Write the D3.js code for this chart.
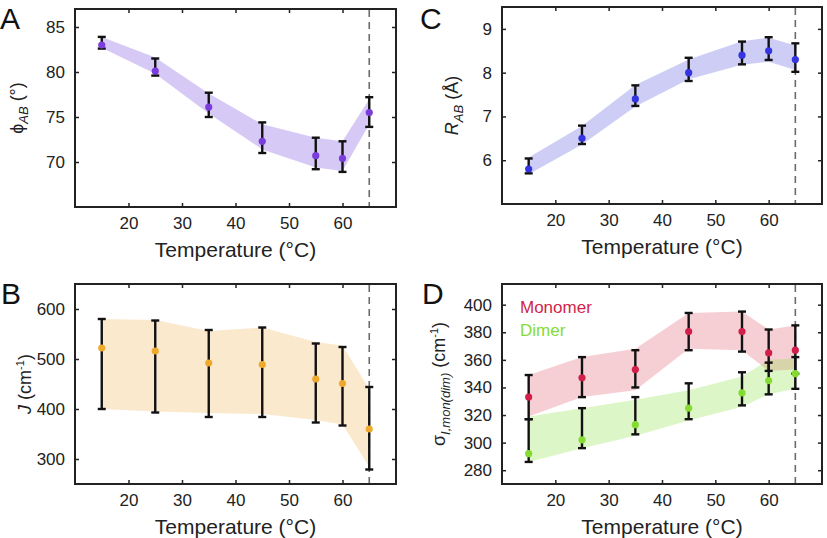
<!DOCTYPE html>
<html>
<head>
<meta charset="utf-8">
<script src="https://cdn.jsdelivr.net/npm/d3@7/dist/d3.min.js"></script>
<style>
  body { margin: 0; background: #fff; }
  svg { font-family: "Liberation Sans", Arial, Helvetica, sans-serif; }
</style>
</head>
<body>
<svg id="chart" width="827" height="538"></svg>
<script>
// ---------- data ----------
const temps = [15, 25, 35, 45, 55, 60, 65];
const xTicks = [20, 30, 40, 50, 60];
const meltTemp = 65;

// Panel A: phi_AB (deg)
const phiMean      = [83.0, 80.1, 76.1, 72.3, 70.7, 70.4, 75.5];
const phiErrLow    = [82.6, 79.6, 75.0, 71.0, 69.2, 68.9, 73.9];
const phiErrHigh   = [83.9, 81.5, 77.7, 74.4, 72.7, 72.3, 77.2];
const phiBandLow   = [82.7, 79.8, 75.4, 71.4, 69.4, 69.0, 74.2];
const phiBandHigh  = [83.9, 81.6, 77.6, 74.2, 72.7, 72.3, 77.0];
const phiTicks     = [70, 75, 80, 85];

// Panel B: J (cm^-1)
const jMean        = [522, 516, 492, 489, 460, 451, 360];
const jErrLow      = [400, 393, 384, 384, 373, 367, 279];
const jErrHigh     = [580, 577, 558, 563, 531, 524, 444];
const jBandLow     = [400, 395, 392, 390, 378, 369, 284];
const jBandHigh    = [580, 578, 556, 563, 534, 527, 440];
const jTicks       = [300, 400, 500, 600];

// Panel C: R_AB (Angstrom)
const rMean        = [5.80, 6.50, 7.40, 8.00, 8.40, 8.50, 8.30];
const rErrLow      = [5.70, 6.37, 7.24, 7.81, 8.19, 8.29, 8.02];
const rErrHigh     = [6.04, 6.79, 7.71, 8.34, 8.71, 8.81, 8.67];
const rBandLow     = [5.68, 6.36, 7.23, 7.85, 8.18, 8.25, 8.06];
const rBandHigh    = [6.06, 6.78, 7.72, 8.30, 8.72, 8.80, 8.62];
const rTicks       = [6, 7, 8, 9];

// Panel D: sigma_I (cm^-1), monomer and dimer
const monMean      = [333, 347, 353, 380.5, 380.5, 365, 367];
const monErrLow    = [317, 333, 340, 367, 366, 352, 350];
const monErrHigh   = [349, 362, 367, 394, 395, 382, 385];
const monBandLow   = [319, 333, 338, 368, 367, 352, 353];
const monBandHigh  = [349, 362, 368, 394, 395, 382, 385];
const dimMean      = [292, 302, 313, 325, 336, 345, 350];
const dimErrLow    = [286, 296, 306, 317, 327, 335, 339];
const dimErrHigh   = [317, 325, 333, 343, 351, 358, 362];
const dimBandLow   = [286, 296, 305, 316, 326, 335, 339];
const dimBandHigh  = [319, 325, 331, 338, 348, 360, 361];
const sigTicks     = [280, 300, 320, 340, 360, 380, 400];

const legendLabels = ["Monomer", "Dimer"];

// ---------- drawing ----------
const svg = d3.select("#chart");

function series(mean, lo, hi, blo, bhi) {
  return temps.map((t, i) => ({ t, m: mean[i], lo: lo[i], hi: hi[i], blo: blo[i], bhi: bhi[i] }));
}

function panel(cfg) {
  const x = d3.scaleLinear().domain([10, 70]).range([cfg.x0, cfg.x1]);
  const y = d3.scaleLinear().domain(cfg.yDomain).range([cfg.y1, cfg.y0]);
  const g = svg.append("g");

  // bands
  cfg.series.forEach(s => {
    const area = d3.area().x(d => x(d.t)).y0(d => y(d.blo)).y1(d => y(d.bhi));
    g.append("path").datum(s.data).attr("d", area)
      .attr("fill", s.band).attr("fill-opacity", s.bandOpacity);
  });

  // dashed line at melting temp
  g.append("line")
    .attr("x1", x(meltTemp)).attr("x2", x(meltTemp))
    .attr("y1", cfg.y0 + 1).attr("y2", cfg.y1 - 1)
    .attr("stroke", "#6b6b6b").attr("stroke-width", 1.6)
    .attr("stroke-dasharray", "7,5");

  // error bars
  cfg.series.forEach(s => {
    const eg = g.append("g");
    s.data.forEach(d => {
      eg.append("line").attr("x1", x(d.t)).attr("x2", x(d.t))
        .attr("y1", y(d.lo)).attr("y2", y(d.hi))
        .attr("stroke", "#111").attr("stroke-width", 2.4);
      [d.lo, d.hi].forEach(v => {
        eg.append("line").attr("x1", x(d.t) - 4).attr("x2", x(d.t) + 4)
          .attr("y1", y(v)).attr("y2", y(v))
          .attr("stroke", "#111").attr("stroke-width", 2.4);
      });
    });
  });
  // dots
  cfg.series.forEach(s => {
    g.append("g").selectAll("circle").data(s.data).join("circle")
      .attr("cx", d => x(d.t)).attr("cy", d => y(d.m)).attr("r", 3.6)
      .attr("fill", s.dot);
  });

  // axes: ticks inward on all sides
  const tickLen = 4;
  const bottom = d3.axisBottom(x).tickValues(xTicks).tickSize(-tickLen).tickPadding(10);
  const top = d3.axisTop(x).tickValues(xTicks).tickSize(-tickLen).tickFormat("");
  const left = d3.axisLeft(y).tickValues(cfg.yTicks).tickSize(-tickLen).tickPadding(10)
    .tickFormat(d3.format("~g"));
  const right = d3.axisRight(y).tickValues(cfg.yTicks).tickSize(-tickLen).tickFormat("");

  const axB = g.append("g").attr("transform", `translate(0,${cfg.y1})`).call(bottom);
  const axT = g.append("g").attr("transform", `translate(0,${cfg.y0})`).call(top);
  const axL = g.append("g").attr("transform", `translate(${cfg.x0},0)`).call(left);
  const axR = g.append("g").attr("transform", `translate(${cfg.x1},0)`).call(right);
  [axB, axT, axL, axR].forEach(a => {
    a.select(".domain").remove();
    a.selectAll(".tick line").attr("stroke", "#222").attr("stroke-width", 1.5);
    a.selectAll(".tick text").attr("fill", "#222").attr("font-size", 17)
      .attr("font-family", "'Liberation Sans', Arial, sans-serif");
  });

  // frame
  g.append("rect").attr("x", cfg.x0).attr("y", cfg.y0)
    .attr("width", cfg.x1 - cfg.x0).attr("height", cfg.y1 - cfg.y0)
    .attr("fill", "none").attr("stroke", "#222").attr("stroke-width", 2);

  // x title
  g.append("text").attr("x", (cfg.x0 + cfg.x1) / 2).attr("y", cfg.y1 + 50)
    .attr("text-anchor", "middle").attr("font-size", 21).attr("fill", "#222")
    .text("Temperature (°C)");

  // y title
  const yt = g.append("text")
    .attr("transform", `translate(${cfg.yLabelX},${(cfg.y0 + cfg.y1) / 2}) rotate(-90)`)
    .attr("text-anchor", "middle").attr("font-size", 18).attr("fill", "#222");
  cfg.yLabel(yt);

  // panel letter
  g.append("text").attr("x", cfg.letterX).attr("y", cfg.letterY)
    .attr("font-size", 30).attr("fill", "#111").text(cfg.letter);

  return { x, y, g };
}

// Panel A
panel({
  x0: 75, x1: 396, y0: 9, y1: 207, yDomain: [65, 87], yTicks: phiTicks,
  series: [{ data: series(phiMean, phiErrLow, phiErrHigh, phiBandLow, phiBandHigh),
             band: "#cdbcf2", bandOpacity: 0.8, dot: "#7a3ddb" }],
  yLabelX: 23, letter: "A", letterX: 0, letterY: 28.5,
  yLabel: t => {
    t.append("tspan").text("ϕ");
    t.append("tspan").attr("font-style", "italic").attr("font-size", 13).attr("dy", 5).text("AB");
    t.append("tspan").attr("dy", -5).text(" (°)");
  }
});

// Panel B
panel({
  x0: 75, x1: 396, y0: 284, y1: 484, yDomain: [250, 650], yTicks: jTicks,
  series: [{ data: series(jMean, jErrLow, jErrHigh, jBandLow, jBandHigh),
             band: "#fbe7c9", bandOpacity: 0.9, dot: "#efaa2e" }],
  yLabelX: 31, letter: "B", letterX: 1, letterY: 304,
  yLabel: t => {
    t.append("tspan").attr("font-style", "italic").text("J");
    t.append("tspan").text(" (cm");
    t.append("tspan").attr("font-size", 11).attr("dy", -7).text("-1");
    t.append("tspan").attr("dy", 7).text(")");
  }
});

// Panel C
panel({
  x0: 502, x1: 822, y0: 7, y1: 204, yDomain: [5, 9.5], yTicks: rTicks,
  series: [{ data: series(rMean, rErrLow, rErrHigh, rBandLow, rBandHigh),
             band: "#c4c4f3", bandOpacity: 0.85, dot: "#3434e0" }],
  yLabelX: 458, letter: "C", letterX: 420, letterY: 28.5,
  yLabel: t => {
    t.append("tspan").attr("font-style", "italic").text("R");
    t.append("tspan").attr("font-style", "italic").attr("font-size", 13).attr("dy", 5).text("AB");
    t.append("tspan").attr("dy", -5).text(" (Å)");
  }
});

// Panel D
const pD = panel({
  x0: 502, x1: 822, y0: 284, y1: 484, yDomain: [270, 415], yTicks: sigTicks,
  series: [
    { data: series(monMean, monErrLow, monErrHigh, monBandLow, monBandHigh),
      band: "#d9384f", bandOpacity: 0.24, dot: "#d21f4a" },
    { data: series(dimMean, dimErrLow, dimErrHigh, dimBandLow, dimBandHigh),
      band: "#8fe04a", bandOpacity: 0.3, dot: "#84dc32" }
  ],
  yLabelX: 445, letter: "D", letterX: 422, letterY: 304,
  yLabel: t => {
    t.append("tspan").text("σ");
    t.append("tspan").attr("font-style", "italic").attr("font-size", 13).attr("dy", 5).text("I,mon(dim)");
    t.append("tspan").attr("dy", -5).text(" (cm");
    t.append("tspan").attr("font-size", 11).attr("dy", -7).text("-1");
    t.append("tspan").attr("dy", 7).text(")");
  }
});

// legend for D
const legendColors = ["#d21f4a", "#84dc32"];
pD.g.selectAll("text.legend").data(legendLabels).join("text")
  .attr("class", "legend")
  .attr("x", 520).attr("y", (d, i) => 313 + i * 23)
  .attr("font-size", 17).attr("fill", (d, i) => legendColors[i])
  .text(d => d);
</script>
</body>
</html>
